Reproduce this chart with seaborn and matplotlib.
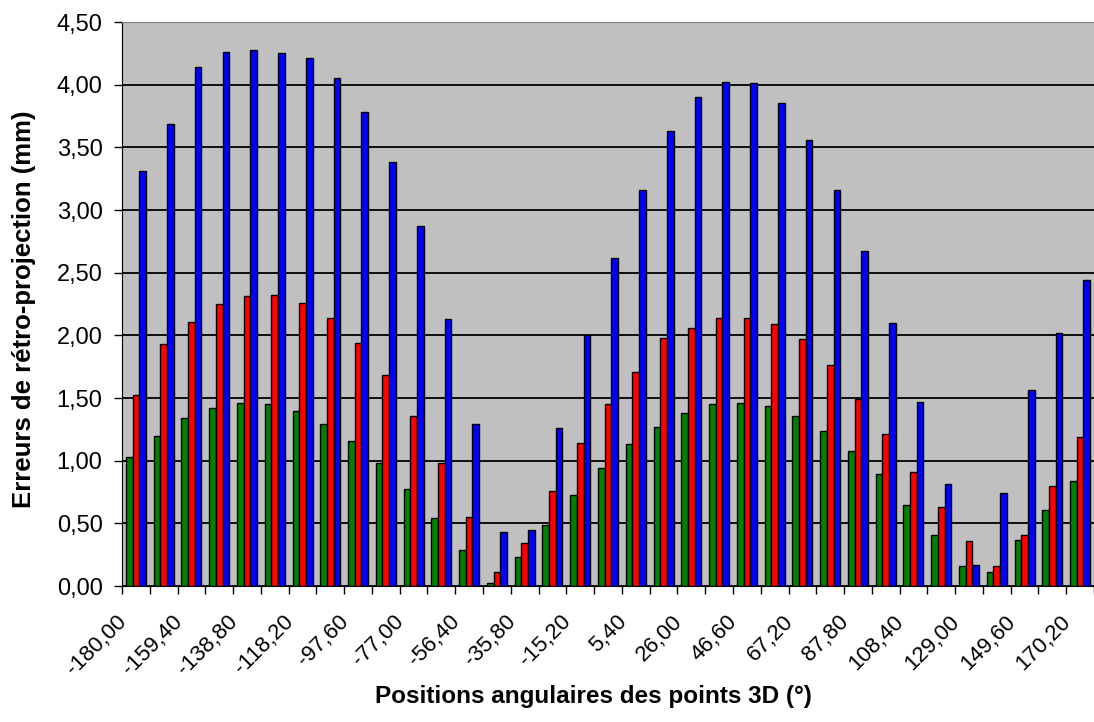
import pandas as pd
import numpy as np
import matplotlib
matplotlib.use("Agg")
import matplotlib.pyplot as plt
import matplotlib.transforms as mtransforms
import seaborn as sns

# ── data ────────────────────────────────────────────────────
angles = ["-180,00", "-169,70", "-159,40", "-149,10", "-138,80", "-128,50", "-118,20",
          "-107,90", "-97,60", "-87,30", "-77,00", "-66,70", "-56,40", "-46,10",
          "-35,80", "-25,50", "-15,20", "-4,90", "5,40", "15,70", "26,00", "36,30",
          "46,60", "56,90", "67,20", "77,50", "87,80", "98,10", "108,40", "118,70",
          "129,00", "139,30", "149,60", "159,90", "170,20"]

green_vals = [1.03, 1.20, 1.34, 1.42, 1.46, 1.45, 1.40, 1.29, 1.16, 0.98, 0.77, 0.54,
              0.29, 0.02, 0.23, 0.49, 0.73, 0.94, 1.13, 1.27, 1.38, 1.45, 1.46, 1.44,
              1.36, 1.24, 1.08, 0.89, 0.65, 0.41, 0.16, 0.11, 0.37, 0.61, 0.84]
red_vals = [1.52, 1.93, 2.11, 2.25, 2.31, 2.32, 2.26, 2.14, 1.94, 1.68, 1.36, 0.98,
            0.55, 0.11, 0.34, 0.76, 1.14, 1.45, 1.71, 1.98, 2.06, 2.14, 2.14, 2.09,
            1.97, 1.76, 1.49, 1.21, 0.91, 0.63, 0.36, 0.16, 0.41, 0.80, 1.19]
blue_vals = [3.31, 3.69, 4.14, 4.26, 4.28, 4.25, 4.21, 4.05, 3.78, 3.38, 2.87, 2.13,
             1.29, 0.43, 0.45, 1.26, 2.00, 2.62, 3.16, 3.63, 3.90, 4.02, 4.01, 3.85,
             3.56, 3.16, 2.67, 2.10, 1.47, 0.81, 0.17, 0.74, 1.56, 2.02, 2.44]

series_names = ["Série1", "Série2", "Série3"]
colors = ["#008000", "#FF0000", "#0000FF"]

yticks = [0.0, 0.5, 1.0, 1.5, 2.0, 2.5, 3.0, 3.5, 4.0, 4.5]

df = pd.DataFrame({
    "angle": angles * 3,
    "serie": [s for s in series_names for _ in angles],
    "erreur": green_vals + red_vals + blue_vals,
})

# ── plot ────────────────────────────────────────────────────
plt.rcParams["font.family"] = ["Liberation Sans", "DejaVu Sans"]

fig = plt.figure(figsize=(10.94, 7.22), dpi=100)
ax = fig.add_axes([122 / 1094, 136 / 722, 972 / 1094, 564 / 722])
ax.set_facecolor("#C0C0C0")

sns.barplot(data=df, x="angle", y="erreur", hue="serie", order=angles,
            hue_order=series_names, palette=colors, width=0.72, saturation=1,
            edgecolor="black", linewidth=1.0, errorbar=None, legend=False, ax=ax)

ax.set_ylim(0, 4.5)
ax.set_xlim(-0.5, 34.25)
ax.set_yticks(yticks)
ax.set_yticklabels([f"{v:.2f}".replace(".", ",") for v in yticks], fontsize=17)
ax.yaxis.grid(True, color="black", linewidth=1.3)
ax.set_axisbelow(True)
ax.tick_params(axis="y", length=6, width=1, color="black", pad=8)

# labels on every other category, small ticks at group boundaries
ax.set_xticks(range(0, len(angles), 2))
ax.set_xticklabels(angles[::2], rotation=45, ha="right", va="top",
                   rotation_mode="anchor", fontsize=16)
ax.set_xticks(np.arange(-0.5, len(angles), 1), minor=True)
ax.tick_params(axis="x", which="major", length=0, pad=18)
ax.tick_params(axis="x", which="minor", length=6, width=1, color="black")
offset = mtransforms.ScaledTranslation(-20 / 100, 0, fig.dpi_scale_trans)
for lab in ax.get_xticklabels():
    lab.set_transform(lab.get_transform() + offset)

ax.spines["right"].set_visible(False)
ax.spines["top"].set_color("#808080")
ax.spines["left"].set_color("black")
ax.spines["bottom"].set_color("black")

ax.set_xlabel("Positions angulaires des points 3D (°)", fontsize=17.5,
              fontweight="bold")
ax.xaxis.set_label_coords(0.485, -0.175)
ax.set_ylabel("Erreurs de rétro-projection (mm)", fontsize=18.5, fontweight="bold")
ax.yaxis.set_label_coords(-0.0885, 0.49)

plt.savefig("out.png", dpi=100)
